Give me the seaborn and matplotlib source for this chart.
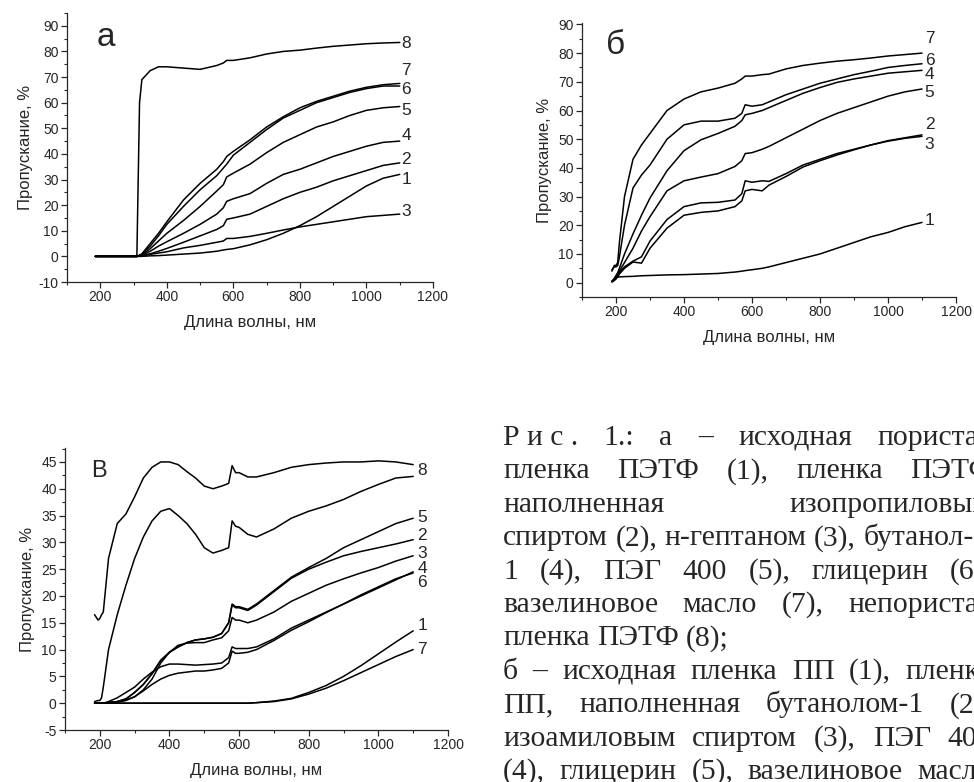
import numpy as np
import pandas as pd
import matplotlib
matplotlib.use("Agg")
import matplotlib.pyplot as plt
import seaborn as sns
from matplotlib.ticker import MultipleLocator

# --- панель а (ПЭТФ) ---
wl_a = [185, 310, 318, 325, 350, 375, 400, 450, 500, 550, 570, 580, 600, 650, 700, 750,
        800, 850, 900, 950, 1000, 1050, 1100]
a8 = [0, 0, 60, 69, 72.5, 74, 74, 73.5, 73, 74.5, 75.5, 76.5, 76.5, 77.5, 79, 80, 80.5,
      81.3, 82, 82.5, 83, 83.3, 83.5]
a7 = [0, 0, 0.5, 1, 5, 9, 13.5, 22, 28.5, 34, 37, 39, 41, 45.5, 50.5, 54.5, 58, 60.5,
      62.5, 64.5, 66, 67, 67.5]
a6 = [0, 0, 0.4, 0.8, 4, 8, 12.5, 19.5, 26, 31.5, 34.5, 36, 39.5, 44.5, 49.5, 54, 57, 60,
      62, 64, 65.5, 66.5, 66.5]
a5 = [0, 0, 0.3, 0.6, 3, 6, 9, 14, 19.5, 25.5, 28, 31, 32.5, 36, 40.5, 44.5, 47.5, 50.5,
      52.5, 55, 57, 58, 58.5]
a4 = [0, 0, 0.2, 0.4, 2, 4, 5.7, 9, 12.5, 16.5, 19, 21.5, 22.5, 24.5, 28.5, 32, 34, 36.5,
      39, 41, 43, 44.5, 45]
a2 = [0, 0, 0.1, 0.3, 1, 2, 3.1, 5.5, 8, 10.5, 12, 14.5, 15, 16.5, 19.5, 22.5, 25, 27,
      29.5, 31.5, 33.5, 35.5, 36.5]
a3 = [0, 0, 0.1, 0.2, 0.8, 1.3, 1.8, 3.3, 4.3, 5.5, 6, 7, 7, 7.8, 9, 10.3, 11.5, 12.5,
      13.5, 14.5, 15.5, 16, 16.5]
a1 = [0, 0, 0, 0, 0.2, 0.3, 0.5, 0.9, 1.3, 2, 2.5, 2.7, 3, 4.5, 6.5, 9, 12, 15.5, 19.5,
      23.5, 27.5, 30.5, 32]
a_labels = ["8", "7", "6", "5", "4", "2", "1", "3"]
a_label_y = [82.9, 72.5, 65, 57, 47.2, 37.7, 30, 17.4]

# --- панель б (ПП) ---
wl_b = [188, 195, 200, 205, 210, 225, 250, 275, 300, 350, 400, 450, 500, 550, 570, 580,
        600, 630, 650, 700, 750, 800, 850, 900, 950, 1000, 1050, 1100]
b7 = [4, 6, 6, 7, 14, 30, 43, 48, 52, 60, 64, 66.5, 67.8, 69.5, 71, 72, 72, 72.5, 72.7,
      74.5, 75.7, 76.5, 77.2, 77.7, 78.3, 79, 79.5, 80]
b6 = [4.5, 5.5, 5.5, 6, 9, 20, 33, 37.5, 41, 50, 55, 56.3, 56.3, 57.3, 59, 62, 61.5, 62,
      63, 65.5, 67.5, 69.5, 71, 72.5, 73.7, 75, 75.7, 76.3]
b4 = [0.5, 1.5, 2.5, 3.5, 5, 10, 17, 23.5, 29.5, 39, 46, 49.8, 52, 54.5, 56.5, 58.5, 59,
      60, 61, 63.5, 66, 68, 69.8, 71, 72, 73, 73.5, 74]
b5 = [0.5, 1, 2, 2.5, 4, 7, 12, 18, 23, 32, 35.5, 36.8, 38, 40.5, 42.5, 45, 45.3, 46.5,
      47.5, 50.5, 53.5, 56.5, 59, 61, 63, 65, 66.5, 67.5]
b2 = [0.3, 0.8, 1.5, 2.5, 3.5, 5.5, 7.5, 9, 14.5, 22, 26.5, 27.8, 28, 28.8, 31, 35.5, 35,
      35.5, 35.3, 38, 41, 43, 45, 46.5, 48, 49.5, 50.5, 51.5]
b3 = [0.3, 0.8, 1.3, 2, 3, 5, 7.2, 6.8, 12, 19, 23.5, 24.5, 25, 26.5, 28.5, 32, 32.5, 32,
      34, 37, 40.3, 42.5, 44.5, 46.3, 48, 49.3, 50.3, 51]
b1 = [0.3, 1.2, 1.7, 1.9, 2, 2.1, 2.2, 2.4, 2.5, 2.7, 2.8, 3, 3.2, 3.7, 4, 4.2, 4.5, 5,
      5.5, 7, 8.5, 10, 12, 14, 16, 17.5, 19.5, 21]
b_labels = ["7", "6", "4", "5", "2", "3", "1"]
b_label_y = [85, 77.6, 72.7, 66.4, 55, 48.2, 21.8]

# --- панель в ---
wl_c = [185, 195, 200, 205, 210, 225, 250, 275, 300, 325, 350, 375, 400, 425, 450, 475,
        500, 525, 550, 570, 580, 590, 600, 625, 650, 700, 750, 800, 850, 900, 950, 1000,
        1050, 1100]
c8 = [16.5, 15.5, 15.8, 16.5, 17, 27, 33.5, 35.3, 38.5, 42, 44, 45, 45, 44.5, 43.2, 42,
      40.5, 40, 40.5, 41, 44.3, 43, 43, 42.2, 42.2, 43, 44, 44.5, 44.8, 45, 45, 45.2, 45, 44.5]
c8b = [0.3, 0.5, 0.5, 1, 3, 10, 16.5, 22, 27, 31, 34, 35.8, 36.3, 35, 33.5, 31.5, 29, 28,
       28.5, 29, 34, 33, 32.8, 31.5, 31, 32.5, 34.5, 35.8, 36.8, 38, 39.5, 40.8, 42, 42.3]
c5 = [0, 0, 0, 0, 0, 0.1, 0.3, 0.8, 2, 3.5, 5.5, 8, 9.5, 10.5, 11.3, 11.8, 12, 12.3, 13,
      15, 18.5, 18, 18, 17.5, 18.5, 21, 23.5, 25.3, 27, 29, 30.5, 32, 33.5, 34.5]
c2 = [0, 0, 0, 0, 0, 0.1, 0.3, 0.8, 2, 3.5, 5.5, 8, 9.5, 10.5, 11.3, 11.8, 12, 12.3, 13,
      15, 18.3, 17.8, 17.8, 17.3, 18.3, 20.8, 23.3, 25, 26.3, 27.5, 28.3, 29, 29.7, 30.5]
c3 = [0, 0, 0, 0, 0, 0.1, 0.2, 0.5, 1.2, 2.5, 4.5, 7.5, 9.5, 10.8, 11.2, 11.3, 11.3, 11.8,
      12.2, 13.5, 16, 15.5, 15.5, 15, 15.5, 17, 19, 20.5, 22, 23.2, 24.3, 25.3, 26.5, 27.5]
c4 = [0, 0, 0, 0, 0, 0.3, 1, 2, 3, 4.5, 5.8, 6.8, 7.3, 7.3, 7.2, 7.1, 7.2, 7.3, 7.5, 8.5,
      10.5, 10.2, 10.2, 10.2, 10.5, 12, 14, 15.5, 17, 18.5, 20, 21.5, 23, 24.5]
c6 = [0, 0, 0, 0, 0, 0.1, 0.2, 0.6, 1.2, 2.3, 3.5, 4.5, 5.2, 5.6, 5.8, 6, 6, 6.2, 6.5, 7.5,
      9.7, 9.3, 9.3, 9.5, 10, 11.7, 13.6, 15.2, 16.9, 18.5, 20.2, 21.7, 23.2, 24.3]
c1 = [0, 0, 0, 0, 0, 0, 0, 0, 0, 0, 0, 0, 0, 0, 0, 0, 0, 0, 0, 0, 0, 0, 0, 0,
      0.1, 0.4, 0.9, 2, 3.3, 5, 7, 9.2, 11.4, 13.5]
c7 = [0, 0, 0, 0, 0, 0, 0, 0, 0, 0, 0, 0, 0, 0, 0, 0, 0, 0, 0, 0, 0, 0, 0, 0,
      0.1, 0.3, 0.8, 1.7, 2.8, 4.2, 5.7, 7.2, 8.7, 10]
c_labels = ["8", "5", "2", "3", "4", "6", "1", "7"]
c_label_y = [43.4, 34.7, 31.3, 27.9, 25.1, 22.6, 14.5, 10]

caption = [
    ["Р и с .", "1.:", "а", "–", "исходная", "пористая"],
    ["пленка", "ПЭТФ", "(1),", "пленка", "ПЭТФ"],
    ["наполненная", "изопропиловым"],
    ["спиртом", "(2),", "н-гептаном", "(3),", "бутанол-"],
    ["1", "(4),", "ПЭГ", "400", "(5),", "глицерин", "(6),"],
    ["вазелиновое", "масло", "(7),", "непористая"],
    ["пленка", "ПЭТФ", "(8);"],
    ["б", "–", "исходная", "пленка", "ПП", "(1),", "пленка"],
    ["ПП,", "наполненная", "бутанолом-1", "(2),"],
    ["изоамиловым", "спиртом", "(3),", "ПЭГ", "400"],
    ["(4),", "глицерин", "(5),", "вазелиновое", "масло"],
]
caption_justify = [True, True, True, False, True, True, False, True, True, True, True]

sns.set_style("ticks")
plt.rcParams["font.family"] = ["Liberation Sans", "DejaVu Sans"]
plt.rcParams["axes.unicode_minus"] = False
plt.rcParams["axes.linewidth"] = 0.9
plt.rcParams["xtick.major.width"] = 0.9
plt.rcParams["ytick.major.width"] = 0.9
plt.rcParams["xtick.minor.width"] = 0.8
plt.rcParams["ytick.minor.width"] = 0.8

W, H = 974, 782
fig = plt.figure(figsize=(W / 100, H / 100), dpi=100)


def box(l, t, r, b):
    return [l / W, 1 - b / H, (r - l) / W, (b - t) / H]


def long_df(wl, series):
    parts = [pd.DataFrame({"wl": wl, "T": vals, "curve": name}) for name, vals in series.items()]
    return pd.concat(parts, ignore_index=True)


def draw_panel(ax, df, ylim, ymaj, ymin, labels, label_y, label_x):
    names = df["curve"].unique()
    sns.lineplot(data=df, x="wl", y="T", hue="curve", units="curve", estimator=None,
                 palette={n: "black" for n in names}, linewidth=1.1, sort=False,
                 legend=False, ax=ax)
    ax.set_xlim(100, 1200)
    ax.set_ylim(*ylim)
    ax.xaxis.set_major_locator(MultipleLocator(200))
    ax.xaxis.set_minor_locator(MultipleLocator(100))
    ax.yaxis.set_major_locator(MultipleLocator(ymaj))
    ax.yaxis.set_minor_locator(MultipleLocator(ymin))
    ax.tick_params(which="major", length=4, labelsize=10, pad=2)
    ax.tick_params(which="minor", length=2)
    ax.set_xlabel("Длина волны, нм", fontsize=12, labelpad=8)
    ax.set_ylabel("Пропускание, %", fontsize=12, labelpad=4)
    sns.despine(ax=ax)
    for lab, y in zip(labels, label_y):
        ax.text(label_x, y, lab, fontsize=12.5, ha="left", va="center")


ax_a = fig.add_axes(box(67, 13, 433, 282))
df_a = long_df(wl_a, {"8": a8, "7": a7, "6": a6, "5": a5, "4": a4, "2": a2, "3": a3, "1": a1})
draw_panel(ax_a, df_a, (-10, 95), 10, 5, a_labels, a_label_y, 1105)
ax_a.text(188, 82, "а", fontsize=24, ha="left", va="baseline")

ax_b = fig.add_axes(box(582, 23, 956, 297))
df_b = long_df(wl_b, {"7": b7, "6": b6, "4": b4, "5": b5, "2": b2, "3": b3, "1": b1})
draw_panel(ax_b, df_b, (-5, 90.5), 10, 5, b_labels, b_label_y, 1108)
ax_b.text(172, 79.7, "б", fontsize=24, ha="left", va="baseline")

ax_c = fig.add_axes(box(65, 448, 448, 730))
df_c = long_df(wl_c, {"8": c8, "8b": c8b, "5": c5, "2": c2, "3": c3, "4": c4, "6": c6,
                      "1": c1, "7": c7})
draw_panel(ax_c, df_c, (-5, 47.6), 5, 2.5, c_labels, c_label_y, 1112)
ax_c.text(174, 42.1, "В", fontsize=17, ha="left", va="baseline")

# подпись к рисунку, по ширине колонки
cap_size = 21.3
cap_font = dict(family=["Liberation Serif", "DejaVu Serif"], fontsize=cap_size)
x0, x1 = 503, 992
base0, step = 445, 33.4
fig.canvas.draw()
rend = fig.canvas.get_renderer()
for i, (words, just) in enumerate(zip(caption, caption_justify)):
    yb = base0 + step * i
    texts = [fig.text(0, 1 - yb / H, w, va="baseline", ha="left", **cap_font) for w in words]
    widths = [t.get_window_extent(rend).width for t in texts]
    space = 0.25 * cap_size * 100 / 72
    if just and len(words) > 1:
        gap = (x1 - x0 - sum(widths)) / (len(words) - 1)
    else:
        gap = space
    x = x0
    for t, w in zip(texts, widths):
        t.set_x(x / W)
        x += w + gap

fig.savefig("out.png", dpi=100)
